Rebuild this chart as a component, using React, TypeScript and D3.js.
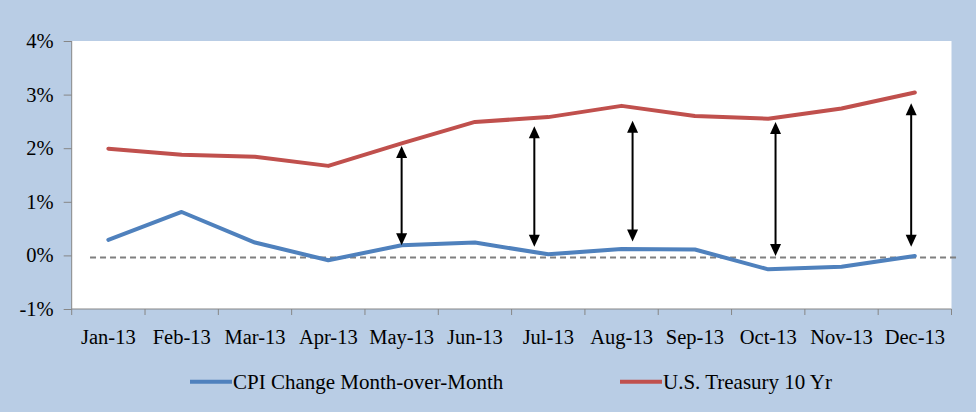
import { useRef, useEffect } from 'react';
import * as d3 from 'd3';

const months = ['Jan-13', 'Feb-13', 'Mar-13', 'Apr-13', 'May-13', 'Jun-13', 'Jul-13', 'Aug-13', 'Sep-13', 'Oct-13', 'Nov-13', 'Dec-13'];
const cpi = [0.29, 0.81, 0.24, -0.09, 0.19, 0.24, 0.02, 0.12, 0.11, -0.26, -0.21, -0.01];
const treasury = [1.99, 1.88, 1.84, 1.67, 2.09, 2.49, 2.58, 2.79, 2.6, 2.55, 2.74, 3.04];
const yTicks = [-1, 0, 1, 2, 3, 4];

// spread arrows (month index, top %, bottom %)
const arrowAt = [4.0, 5.81, 7.15, 9.1, 10.95];
const arrowTop = [2.04, 2.41, 2.51, 2.49, 2.84];
const arrowBottom = [0.19, 0.16, 0.26, -0.01, 0.16];

// dashed reference line
const refLevel = -0.04;
const refFrom = -0.25;
const refTo = 11.6;

const seriesNames = ['CPI Change Month-over-Month', 'U.S. Treasury 10 Yr'];

export default function App() {
    const chartRef = useRef<SVGSVGElement>(null);

    useEffect(() => {
        if (!chartRef.current) return;
        const svg = d3.select(chartRef.current);
        svg.selectAll('*').remove();

        const width = 976;
        const height = 412;
        const margin = { top: 41, right: 24.5, left: 71.7 };
        const plotBottom = 309;
        const font = "'Times New Roman', 'Liberation Serif', 'DejaVu Serif', serif";
        const blue = '#4F81BD';
        const red = '#C0504D';
        const axisGray = '#868686';

        svg.attr('width', width).attr('height', height).style('font-family', font);

        svg.append('rect').attr('width', width).attr('height', height).attr('fill', '#B9CDE5');

        const x = d3.scaleBand<string>()
            .domain(months)
            .range([margin.left, width - margin.right]);

        const xi = d3.scaleLinear()
            .domain([-0.5, months.length - 0.5])
            .range([margin.left, width - margin.right]);

        const y = d3.scaleLinear()
            .domain([-1, 4])
            .range([plotBottom, margin.top]);

        // plot area
        svg.append('rect')
            .attr('x', margin.left)
            .attr('y', margin.top)
            .attr('width', width - margin.right - margin.left)
            .attr('height', plotBottom - margin.top)
            .attr('fill', '#fff');

        // Axes
        const yAxis = svg.append('g')
            .attr('transform', `translate(${margin.left},0)`)
            .call(d3.axisLeft(y).tickValues(yTicks).tickSize(8).tickPadding(10).tickFormat(d => `${d}%`));

        const xAxis = svg.append('g')
            .attr('transform', `translate(0,${plotBottom})`)
            .call(d3.axisBottom(x).tickSize(0).tickPadding(20));

        [yAxis, xAxis].forEach(ax => {
            ax.attr('font-family', null).attr('font-size', 20.5);
            ax.selectAll('text')
                .attr('fill', '#000')
                .style('font-family', font)
                .style('font-size', '20.5px');
        });

        // ticks between categories
        xAxis.selectAll('.tick-edge')
            .data(d3.range(months.length + 1))
            .enter()
            .append('line')
            .attr('x1', d => xi(d - 0.5))
            .attr('x2', d => xi(d - 0.5))
            .attr('y1', 0)
            .attr('y2', 6)
            .attr('stroke', axisGray);

        svg.selectAll('.domain').attr('stroke', axisGray);
        svg.selectAll('.tick line').attr('stroke', axisGray);
        xAxis.select('.domain').attr('d', `M${margin.left},0H${width - margin.right}`);
        yAxis.select('.domain').attr('d', `M0,${y(4)}V${y(-1)}`);

        // dashed reference
        svg.append('line')
            .attr('x1', xi(refFrom))
            .attr('x2', xi(refTo))
            .attr('y1', y(refLevel))
            .attr('y2', y(refLevel))
            .attr('stroke', '#7F7F7F')
            .attr('stroke-width', 2)
            .attr('stroke-dasharray', '6,4');

        // Lines
        const line = d3.line<number>()
            .x((_, i) => x(months[i])! + x.bandwidth() / 2)
            .y(d => y(d));

        [[cpi, blue], [treasury, red]].forEach(([vals, color]) => {
            svg.append('path')
                .datum(vals as number[])
                .attr('d', line)
                .attr('fill', 'none')
                .attr('stroke', color as string)
                .attr('stroke-width', 4)
                .attr('stroke-linejoin', 'round')
                .attr('stroke-linecap', 'round');
        });

        // Double arrows
        const headLen = 12;
        const headHalf = 5.5;
        arrowAt.forEach((pos, i) => {
            const ax = xi(pos);
            const yt = y(arrowTop[i]);
            const yb = y(arrowBottom[i]);
            svg.append('line')
                .attr('x1', ax).attr('x2', ax)
                .attr('y1', yt + headLen - 1).attr('y2', yb - headLen + 1)
                .attr('stroke', '#000')
                .attr('stroke-width', 2);
            svg.append('path')
                .attr('d', `M${ax},${yt}L${ax - headHalf},${yt + headLen}L${ax + headHalf},${yt + headLen}Z`)
                .attr('fill', '#000');
            svg.append('path')
                .attr('d', `M${ax},${yb}L${ax - headHalf},${yb - headLen}L${ax + headHalf},${yb - headLen}Z`)
                .attr('fill', '#000');
        });

        // Legend
        const legendY = 381.7;
        const legendX = [190, 620];
        [blue, red].forEach((color, i) => {
            const g = svg.append('g').attr('transform', `translate(${legendX[i]},${legendY})`);
            g.append('line')
                .attr('x1', 0).attr('x2', 42)
                .attr('stroke', color)
                .attr('stroke-width', 4);
            g.append('text')
                .attr('x', 43)
                .attr('dy', '0.34em')
                .attr('fill', '#000')
                .style('font-family', font)
                .style('font-size', '21px')
                .text(seriesNames[i]);
        });
    }, []);

    return (
        <div style={{ position: 'absolute', left: 0, top: 0 }}>
            <svg ref={chartRef} style={{ display: 'block' }}></svg>
        </div>
    );
}
